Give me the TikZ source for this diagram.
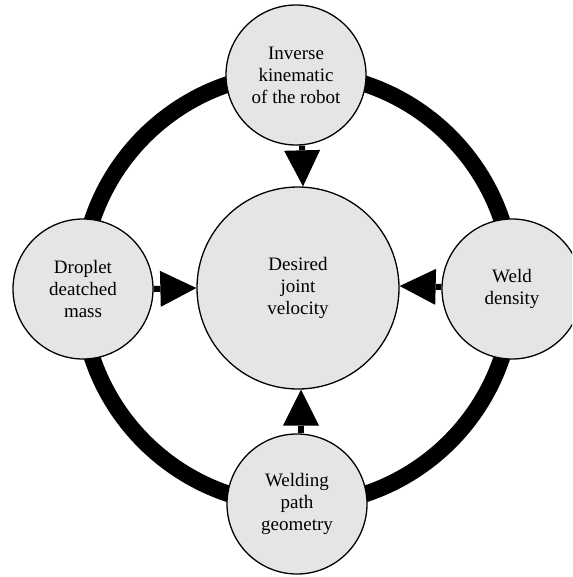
\documentclass[tikz,border=0pt]{standalone}
\usepackage{fontspec}
\setmainfont{Liberation Serif}
\usetikzlibrary{arrows.meta}
\definecolor{bubgray}{RGB}{229,229,229}
\begin{document}
\begin{tikzpicture}[x=1pt,y=-1pt,
  bub/.style={circle, draw=black, line width=1.3pt, fill=bubgray, inner sep=0pt,
    align=center, font=\fontsize{19}{22}\selectfont},
  small/.style={bub, minimum size=140pt},
  big/.style={bub, minimum size=202pt},
  ringline/.style={line width=16.5pt, draw=black},
  feed/.style={line width=6pt, -{Triangle[length=36pt,width=36pt,line width=0pt]}}]
\useasboundingbox (0,0) rectangle (572,577);
\clip (0,0) rectangle (572,577);
\coordinate (ringc) at (297,289);
\draw[ringline] (ringc) circle[radius=216pt];
\node[big] (c) at (298,288) {Desired\\joint\\velocity};
\node[small] (t) at (296,75) {Inverse\\kinematic\\of the robot};
\node[small] (l) at (83,289) {Droplet\\deatched\\mass};
\node[small] (r) at (512,289) {Weld\\density};
\node[small] (b) at (297,504) {Welding\\path\\geometry};
\draw[feed] ([xshift=6pt]t.south) -- ([xshift=5pt]c.north);
\draw[feed] (l.east) -- (c.west);
\draw[feed] ([yshift=2pt]r.west) -- ([yshift=2pt]c.east);
\draw[feed] ([xshift=4pt]b.north) -- ([xshift=3pt]c.south);
\end{tikzpicture}
\end{document}
